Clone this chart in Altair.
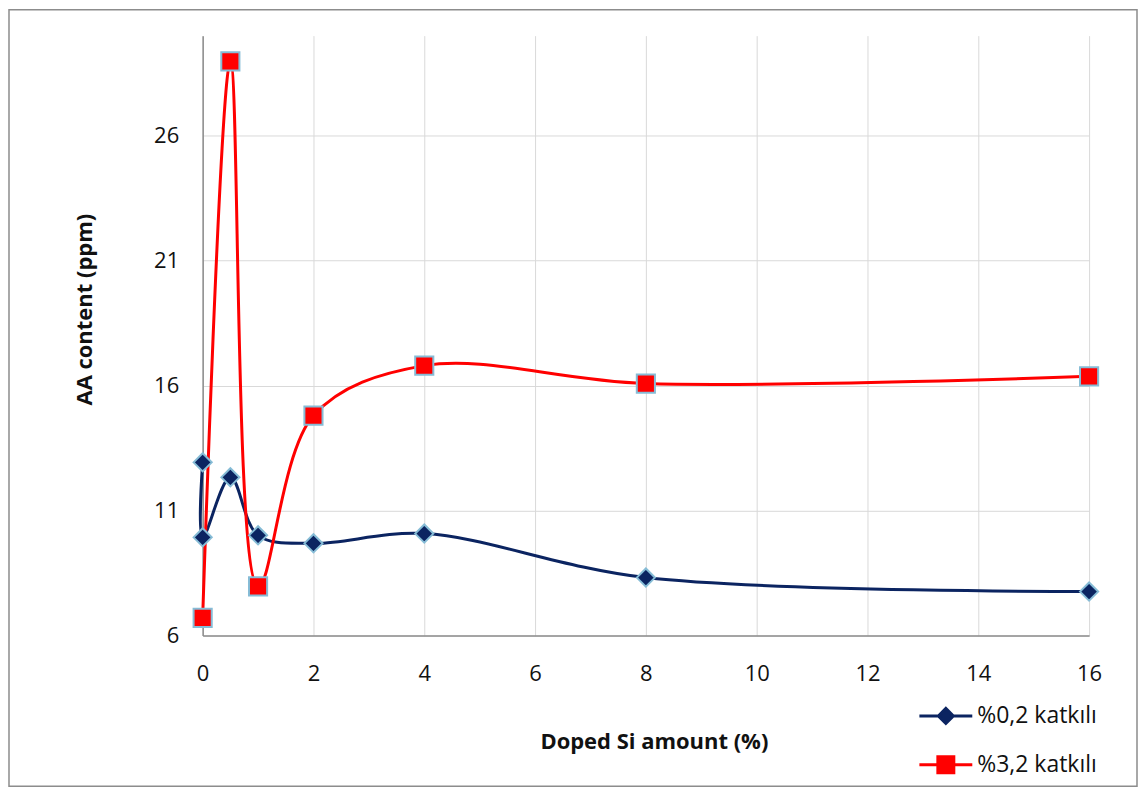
import altair as alt
import pandas as pd

series_names = ["%0,2 katkılı", "%3,2 katkılı"]
x_02 = [0, 0, 0.5, 1, 2, 4, 8, 16]
y_02 = [12.93, 9.93, 12.33, 10.01, 9.69, 10.08, 8.32, 7.76]
x_32 = [0, 0.5, 1, 2, 4, 8, 16]
y_32 = [6.71, 28.97, 7.97, 14.8, 16.8, 16.08, 16.37]
x_ticks = [0, 2, 4, 6, 8, 10, 12, 14, 16]
y_ticks = [6, 11, 16, 21, 26]

NAVY = "#0B2461"
RED = "#FF0000"
EDGE = "#86BCD6"
FONT = "Open Sans"

rows = []
for i, (xv, yv) in enumerate(zip(x_02, y_02)):
    rows.append({"x": xv, "y": yv, "series": series_names[0], "order": i})
for i, (xv, yv) in enumerate(zip(x_32, y_32)):
    rows.append({"x": xv, "y": yv, "series": series_names[1], "order": i})
df = pd.DataFrame(rows)

xenc = alt.X("x:Q", scale=alt.Scale(domain=[0, 16], nice=False, zero=False),
             axis=alt.Axis(values=x_ticks, format="d", labelFlush=False, title="Doped Si amount (%)",
                           labelPadding=28,
                           titleX=452, titleY=106, titleAlign="center", titleBaseline="middle"))
yenc = alt.Y("y:Q", scale=alt.Scale(domain=[6, 30], nice=False, zero=False),
             axis=alt.Axis(values=y_ticks, format="d", labelFlush=False, title="AA content (ppm)",
                           labelPadding=24,
                           titleX=-118, titleY=274, titleAngle=270, titleAlign="center",
                           titleBaseline="middle"))

base = alt.Chart(df)
colscale = alt.Scale(domain=series_names, range=[NAVY, RED])

lines = base.mark_line(interpolate="catmull-rom", strokeWidth=3).encode(
    x=xenc, y=yenc,
    color=alt.Color("series:N", scale=colscale, legend=None),
    order="order:Q",
)

points = base.mark_point(filled=True, size=330, stroke=EDGE, strokeWidth=2, opacity=1).encode(
    x="x:Q", y="y:Q",
    fill=alt.Fill("series:N", scale=colscale, legend=None),
    shape=alt.Shape("series:N", scale=alt.Scale(domain=series_names, range=["diamond", "square"]), legend=None),
)

path_d = "M-2.65,0H-0.75M-0.75,0L0,-0.75L0.75,0L0,0.75ZM0.75,0H2.65"
path_s = "M-2.65,0H-0.8M-0.8,-0.8H0.8V0.8H-0.8ZM0.8,0H2.65"

leg = alt.Legend(
    title=None, orient="none", legendX=733, legendY=670,
    labelFont=FONT, labelFontSize=23, labelColor="#111111",
    symbolSize=400, symbolStrokeWidth=3, rowPadding=21, labelOffset=20,
    padding=0, symbolOpacity=1,
)

legend_layer = base.mark_point(filled=True, opacity=0, size=400).encode(
    x="x:Q", y="y:Q",
    color=alt.Color("series:N", scale=colscale, legend=leg),
    stroke=alt.Stroke("series:N", scale=colscale, legend=leg),
    shape=alt.Shape("series:N", scale=alt.Scale(domain=series_names, range=[path_d, path_s]), legend=leg),
)

border = alt.Chart(pd.DataFrame({"a": [0]})).mark_rect(
    fill="transparent", stroke="#8C8C8C", strokeWidth=1.5
).encode(x=alt.value(-194), x2=alt.value(936), y=alt.value(-26), y2=alt.value(752))

chart = alt.layer(border, lines, points, legend_layer).resolve_scale(
    shape="independent", color="independent", fill="independent", stroke="independent"
).properties(
    width=888, height=601,
    autosize=alt.AutoSizeParams(type="none"),
    padding={"left": 195, "top": 27, "right": 49, "bottom": 152},
).configure_view(stroke=None).configure_axis(
    grid=True, gridColor="#D9D9D9", gridWidth=1,
    domainColor="#8C8C8C", domainWidth=1.5, ticks=False,
    labelFont=FONT, labelFontSize=22, labelColor="#111111",
    titleFont=FONT, titleFontSize=22, titleFontWeight="bold", titleColor="#111111",
)

chart.save("out.html", embed_options={"renderer": "svg", "actions": False})
